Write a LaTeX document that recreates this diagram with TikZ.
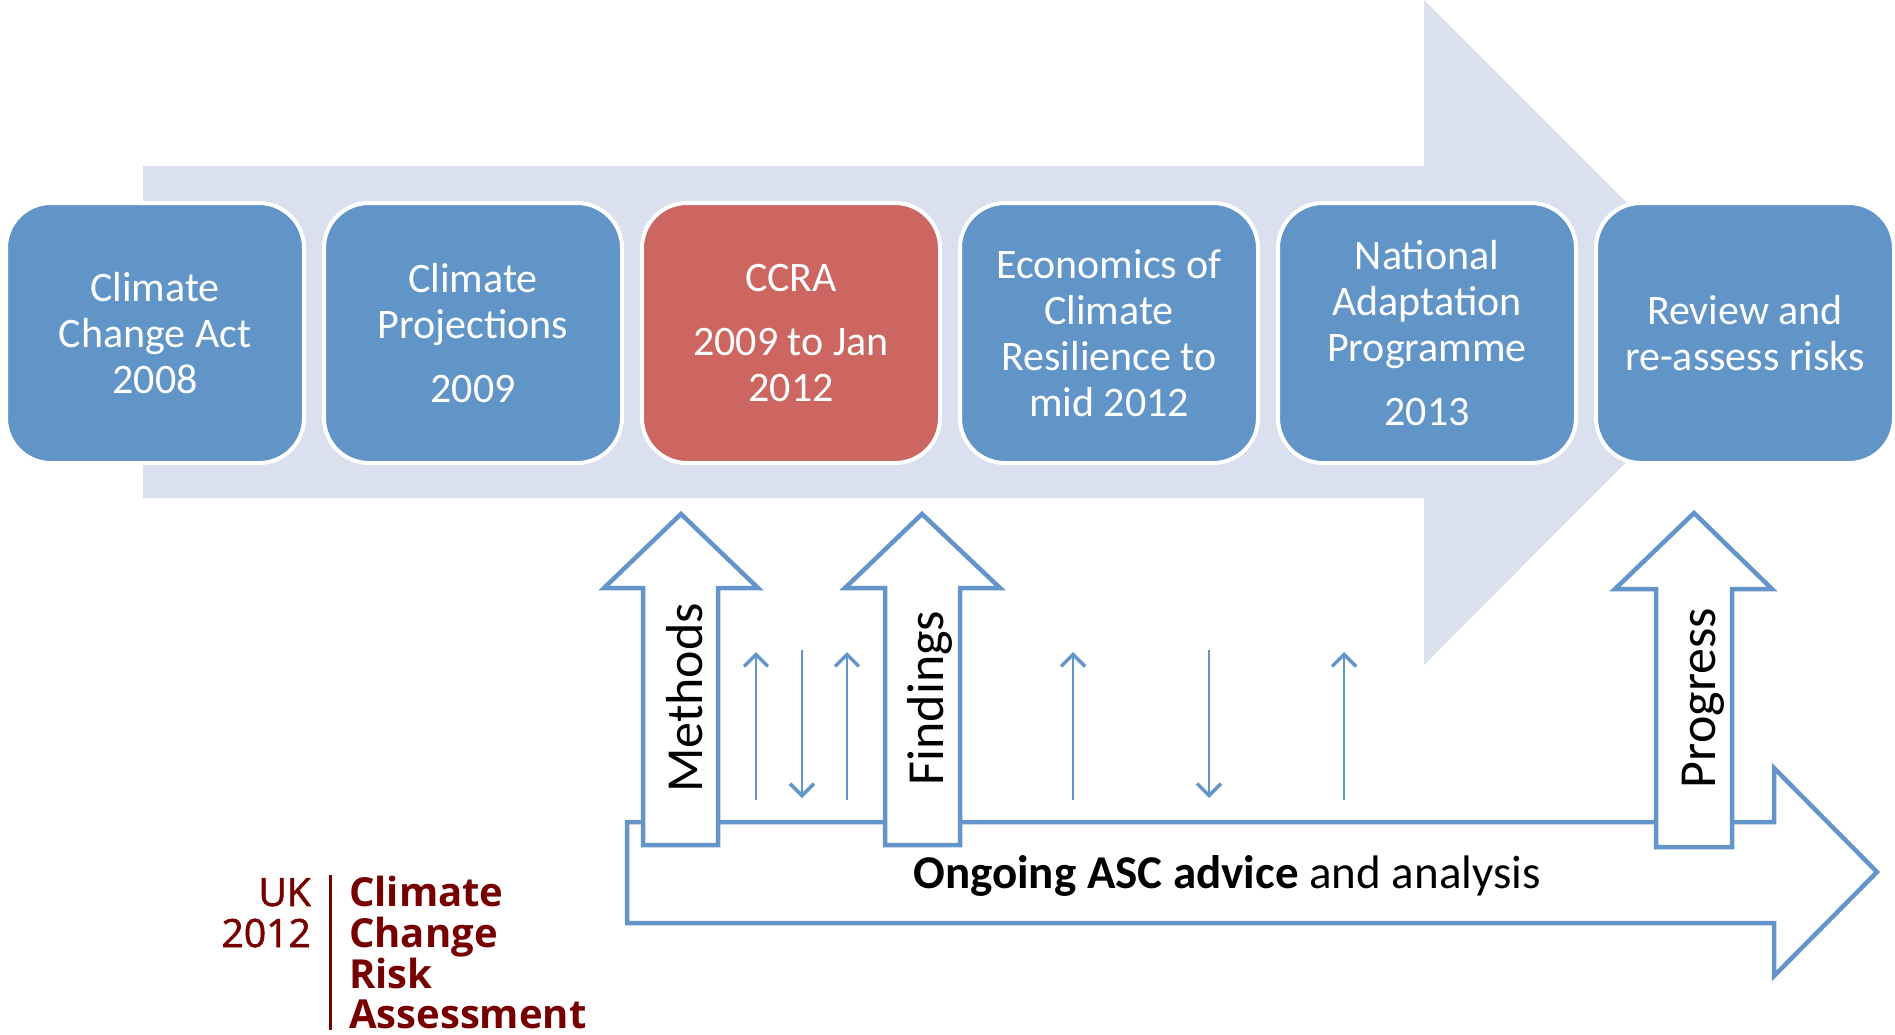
\documentclass[tikz,border=0pt]{standalone}
\usepackage{fontspec}
\setmainfont{Carlito}
\newfontfamily\logofont{Open Sans}
\newfontfamily\logofontmid[FakeBold=1.5]{Open Sans}
\usetikzlibrary{arrows.meta}

\definecolor{band}{HTML}{DAE0EE}
\definecolor{stageblue}{HTML}{6195C8}
\definecolor{stagered}{HTML}{CD6560}
\definecolor{adviceblue}{HTML}{6495CA}
\definecolor{logored}{HTML}{760000}

\begin{document}
\begin{tikzpicture}
[x=1pt, y=-1pt, every node/.style={inner sep=0pt},
 stage/.style={rounded corners=45pt, minimum width=298pt, minimum height=260pt, draw=white, line width=4pt, text=white, align=center, font=\fontsize{42}{46}\selectfont},
 outline/.style={draw=adviceblue, fill=white, line width=4.5pt},
 flow/.style={draw=adviceblue, line width=2pt, -{Straight Barb[length=12pt, width=24pt, line width=3.5pt]}},
 upword/.style={rotate=90, anchor=base, font=\fontsize{52}{60}\selectfont},
 logoyear/.style={anchor=base east, text=logored, font=\logofontmid\fontsize{39}{41}\selectfont},
 logoname/.style={anchor=base west, text=logored, font=\logofont\bfseries\fontsize{40}{41}\selectfont}]
\useasboundingbox (0,0) rectangle (1895,1034);

% timeline band behind the stages
\fill [band] (143,166) -- (1424,166) -- (1424,0) -- (1756,332) -- (1424,665) -- (1424,498) -- (143,498) -- cycle;

\node (act) [stage, fill=stageblue] at (155,333) {Climate\\Change Act\\2008};
\node (proj) [stage, fill=stageblue] at (473,333) {Climate\\Projections\\[18pt]2009};
\node (ccra) [stage, fill=stagered] at (791,333) {CCRA\\[18pt]2009 to Jan\\2012};
\node (econ) [stage, fill=stageblue] at (1109,333) {Economics of\\Climate\\Resilience to\\mid 2012};
\node (nap) [stage, fill=stageblue] at (1427,333) {National\\Adaptation\\Programme\\[18pt]2013};
\node (review) [stage, fill=stageblue] at (1745,333) {Review and\\re-assess risks};

% ongoing advice arrow
\draw [outline] (627,822) -- (1774,822) -- (1774,768) -- (1877,872) -- (1774,976) -- (1774,923) -- (627,923) -- cycle;
\node (advice) [anchor=base, font=\fontsize{47}{56}\selectfont] at (1227,888) {\textbf{Ongoing ASC advice} and analysis};

% upward arrows into the timeline
\draw [outline] (643,845) -- (643,588) -- (604,588) -- (681,514) -- (758,588) -- (718,588) -- (718,845) -- cycle;
\draw [outline] (885,845) -- (885,588) -- (845,588) -- (922,514) -- (1000,588) -- (960,588) -- (960,845) -- cycle;
\draw [outline] (1656,847) -- (1656,589) -- (1615,589) -- (1694,513) -- (1772,589) -- (1732,589) -- (1732,847) -- cycle;
\node (methods) [upword] at (702,698) {Methods};
\node (findings) [upword] at (943,698) {Findings};
\node (progress) [upword] at (1715,698) {Progress};

% exchanges between analysis and the stages
\coordinate (f1) at (756,800);
\coordinate (t1) at (756,652);
\coordinate (f2) at (802,650);
\coordinate (t2) at (802,798);
\coordinate (f3) at (847,800);
\coordinate (t3) at (847,652);
\coordinate (f4) at (1073,800);
\coordinate (t4) at (1073,652);
\coordinate (f5) at (1209,650);
\coordinate (t5) at (1209,798);
\coordinate (f6) at (1344,800);
\coordinate (t6) at (1344,652);
\draw [flow] (f1) to (t1);
\draw [flow] (f2) to (t2);
\draw [flow] (f3) to (t3);
\draw [flow] (f4) to (t4);
\draw [flow] (f5) to (t5);
\draw [flow] (f6) to (t6);

% report logo
\coordinate (bar top) at (330,875);
\coordinate (bar bottom) at (330,1030);
\draw [logored, line width=3pt] (bar top) -- (bar bottom);
\node (uk) [logoyear] at (311,906) {UK};
\node (year) [logoyear] at (311,947) {2012};
\node (climate) [logoname] at (349,906) {Climate};
\node (change) [logoname] at (349,947) {Change};
\node (risk) [logoname] at (349,988) {Risk};
\node (assessment) [logoname] at (349,1028) {Assessment};
\end{tikzpicture}
\end{document}
